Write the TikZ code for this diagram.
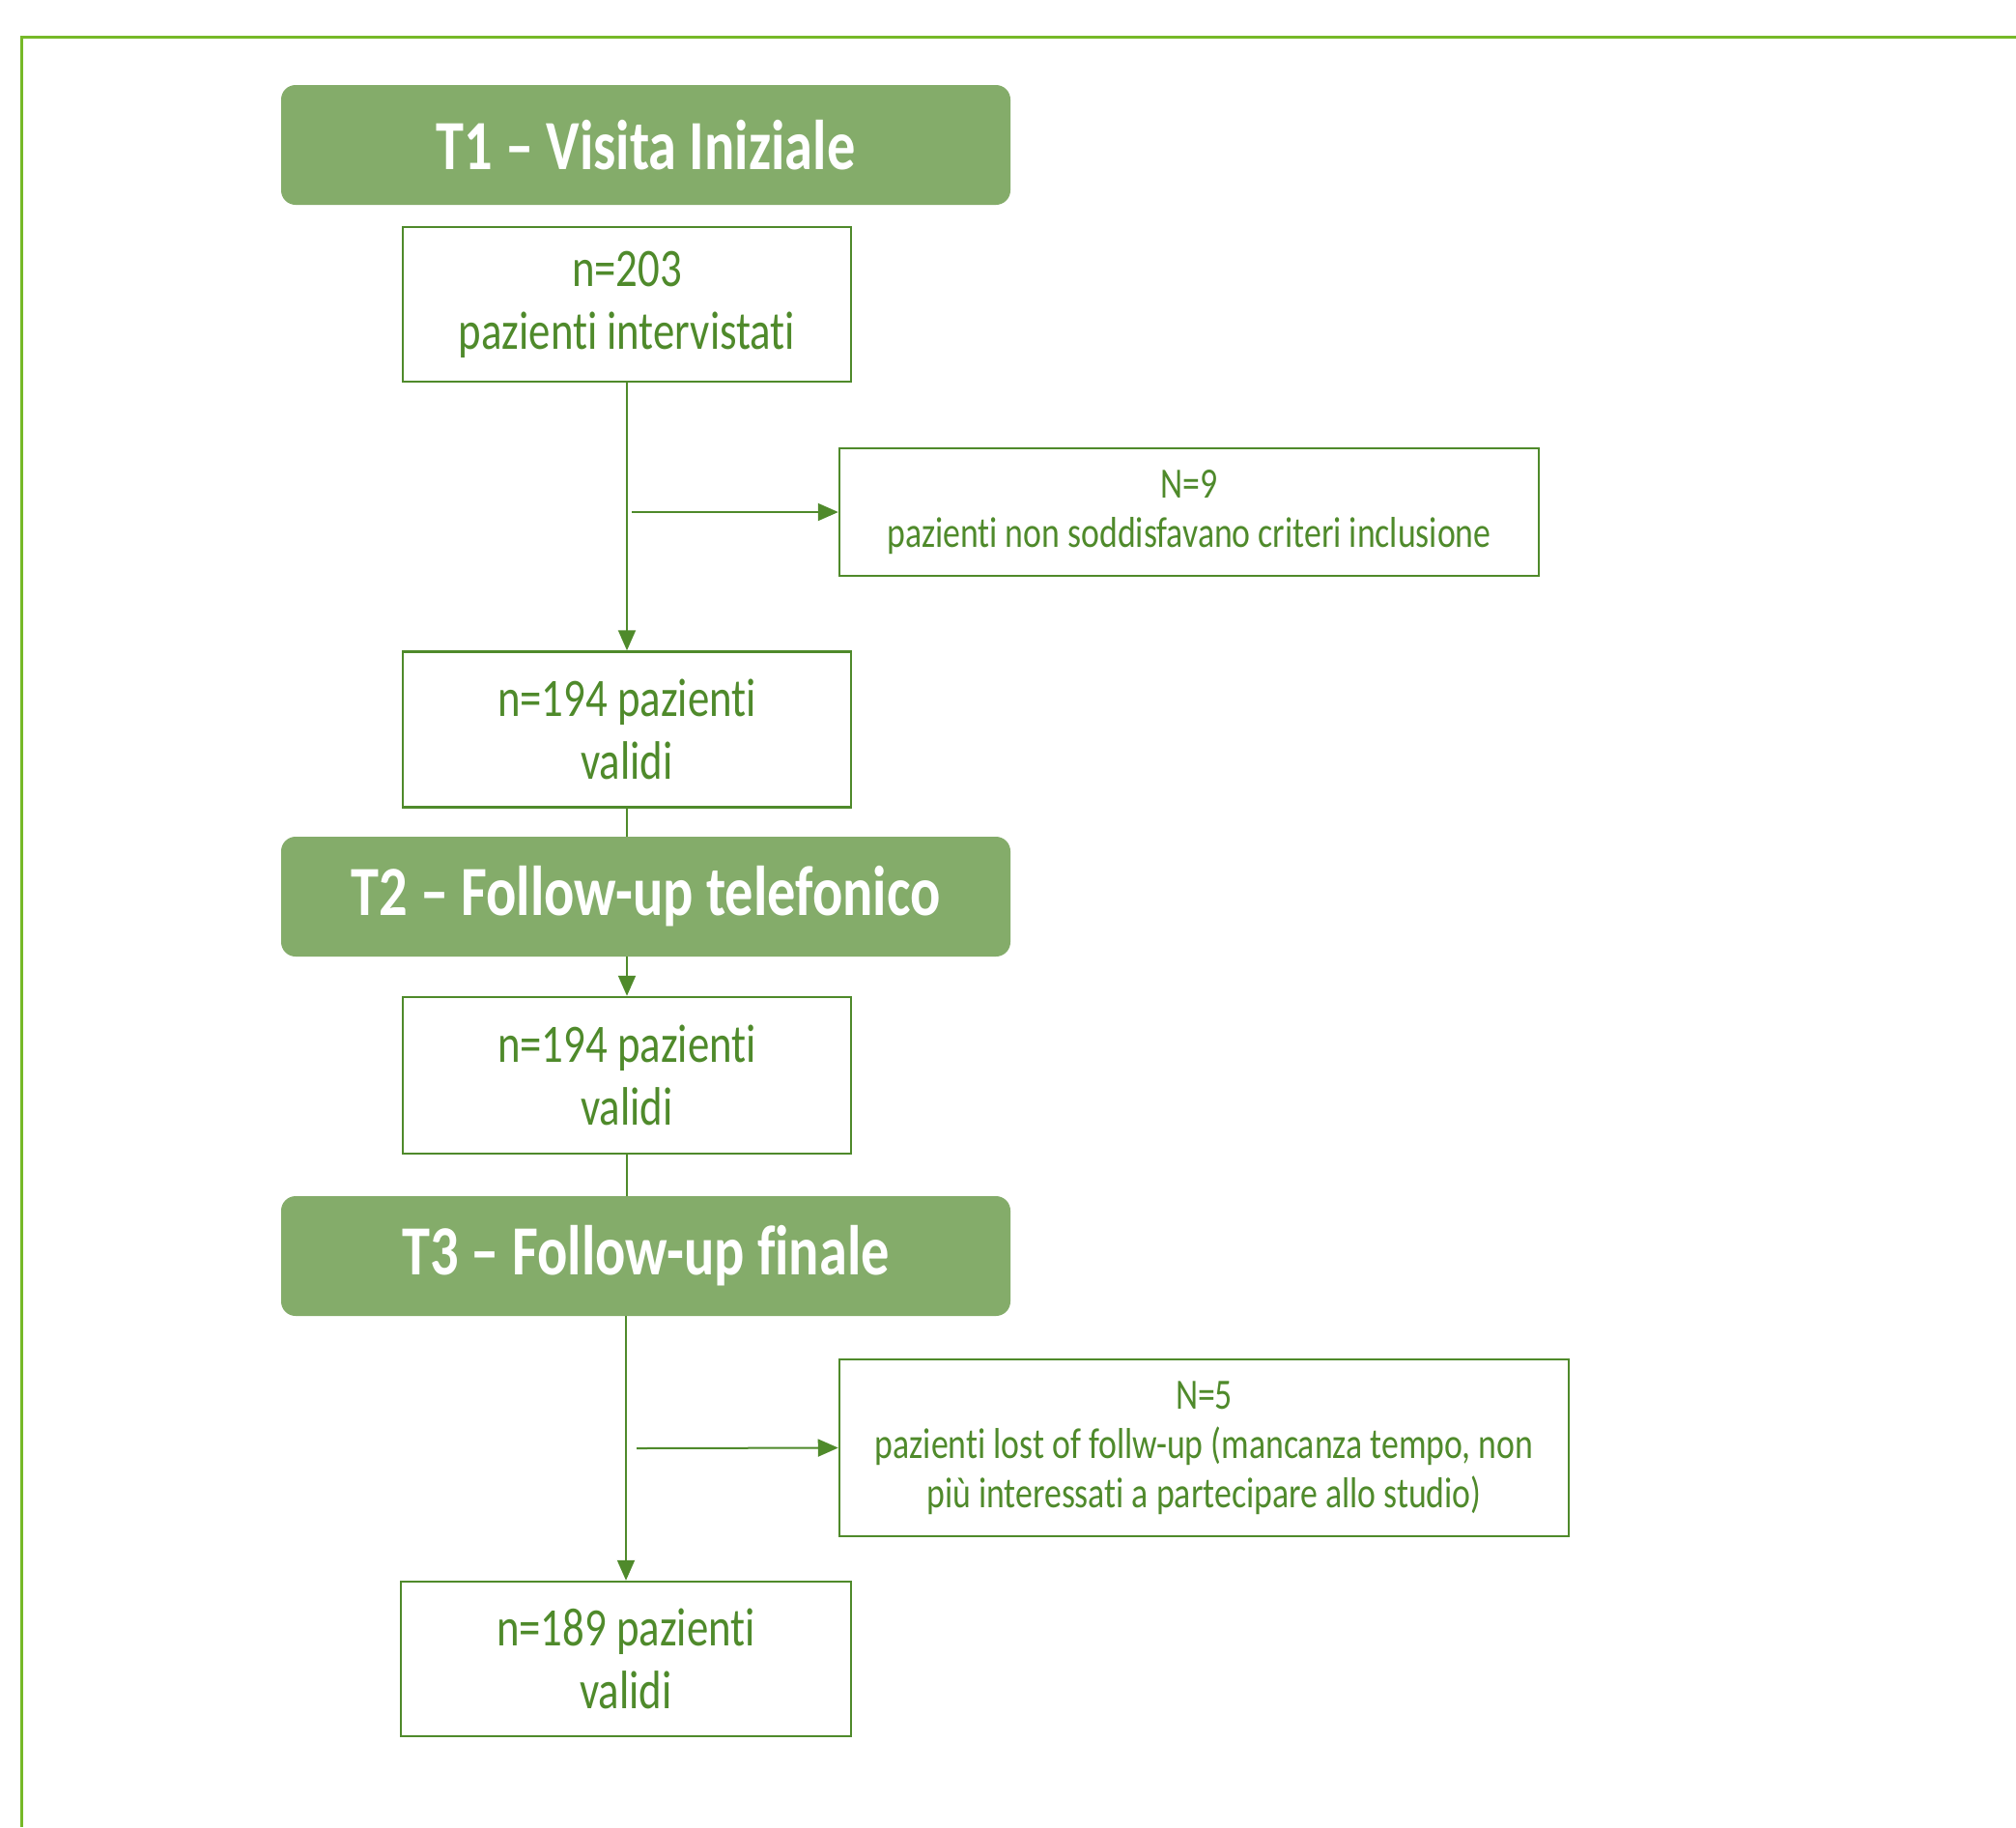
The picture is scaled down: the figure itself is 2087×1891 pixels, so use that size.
\documentclass[tikz,border=0pt]{standalone}
\usepackage{fontspec}
\newfontfamily\calfont{Carlito}[FakeStretch=0.8,Ligatures={TeX,NoCommon}]
\usetikzlibrary{arrows.meta}
\definecolor{framegreen}{HTML}{76B928}
\definecolor{headfill}{HTML}{84AC6A}
\definecolor{dgreen}{HTML}{4F8A2B}
\begin{document}
\begin{tikzpicture}[x=1pt,y=-1pt,
  header/.style={rectangle, rounded corners=15pt, fill=headfill, text=white,
    font=\calfont\bfseries\fontsize{73}{80}\selectfont,
    minimum width=755pt, minimum height=124pt, inner sep=0pt},
  mainbox/.style={rectangle, draw=dgreen, line width=2.5pt, fill=white, text=dgreen,
    font=\calfont\fontsize{56}{65}\selectfont, align=center,
    minimum width=464pt, minimum height=160pt, inner sep=0pt},
  sidebox/.style={rectangle, draw=dgreen, line width=2.5pt, fill=white, text=dgreen,
    font=\calfont\fontsize{44.7}{51}\selectfont, align=center, inner sep=0pt},
  conn/.style={draw=dgreen, line width=2pt},
  arr/.style={conn, -{Triangle[length=21pt,width=18pt]}}
]
\fill[white] (0,0) rectangle (2087,1891);
\useasboundingbox (0,0) rectangle (2087,1891);
\draw[framegreen, line width=3pt] (2087,38) -- (22,38) -- (22,1891);

\node[header] (t1) at (668.5,150) {T1 – Visita Iniziale};
\node[mainbox] (box1) at (649,315) {n=203\\pazienti intervistati};
\node[sidebox, minimum width=724pt, minimum height=132pt] (side1) at (1231,530)
  {\raisebox{-4pt}{\parbox{700pt}{\centering N=9\\pazienti non soddisfavano criteri inclusione}}};
\node[mainbox, minimum height=161pt] (box2) at (649,755) {n=194 pazienti\\validi};
\node[header] (t2) at (668.5,928) {T2 – Follow-up telefonico};
\node[mainbox, minimum height=162pt] (box3) at (649,1113) {n=194 pazienti\\validi};
\node[header] (t3) at (668.5,1300) {T3 – Follow-up finale};
\node[sidebox, minimum width=755pt, minimum height=183pt] (side2) at (1246.5,1498.5)
  {\raisebox{-4pt}{\parbox{740pt}{\centering N=5\\pazienti lost of follw-up (mancanza tempo, non\\più interessati a partecipare allo studio)}}};
\node[mainbox, minimum width=466pt] (box4) at (648,1717) {n=189 pazienti\\validi};

\draw[arr] (box1.south) -- (box2.north);
\coordinate (b1) at (654,530);
\draw[arr] (b1) -- (side1.west);
\draw[conn] (box2.south) -- (box2.south |- t2.north);
\draw[arr] (box3.north |- t2.south) -- (box3.north);
\draw[conn] (box3.south) -- (box3.south |- t3.north);
\draw[arr] (box4.north |- t3.south) -- (box4.north);
\coordinate (b2) at (659,1499);
\draw[arr] (b2) -- (side2.west);
\end{tikzpicture}
\end{document}
